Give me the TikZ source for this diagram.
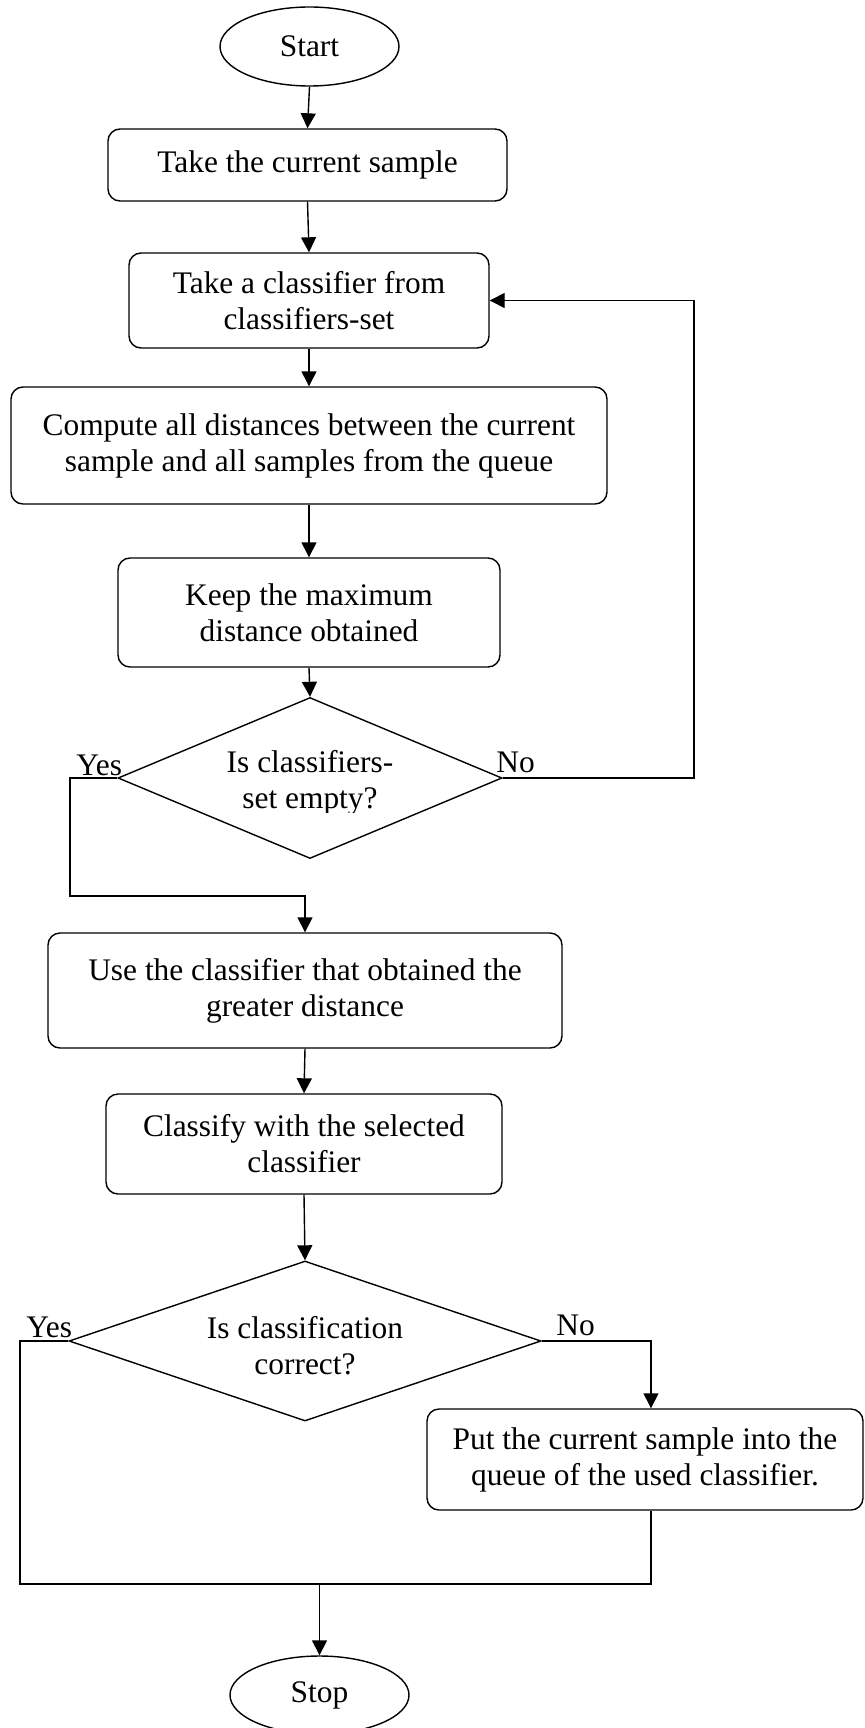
\documentclass[tikz,border=0pt]{standalone}
\usepackage{fontspec}
\setmainfont{Liberation Serif}
\usetikzlibrary{arrows.meta,shapes.geometric}
\begin{document}
\begin{tikzpicture}[x=0.5pt,y=-0.5pt,
  every node/.style={font=\fontsize{15.7pt}{18pt}\selectfont, inner sep=0pt},
  proc/.style={draw, rounded corners=6pt, line width=0.7pt, align=center},
  term/.style={draw, ellipse, line width=0.7pt},
  dec/.style={draw, diamond, line width=0.7pt},
  dtext/.style={align=center},
  conn/.style={line width=0.7pt},
  arr/.style={conn, -{Triangle[length=7.5pt,width=7.5pt]}},
  lbl/.style={anchor=base west}]
\useasboundingbox (0,0) rectangle (864,1728);
\fill[white] (0,0) rectangle (864,1728);
\clip (0,0) rectangle (864,1728);

% nodes
\node[term, minimum width=89.5pt, minimum height=39.5pt] (start) at (309.5,46.5) {Start};
\node[proc, minimum width=199.5pt, minimum height=36pt] (b1) at (307.5,165) {Take the current sample};
\node[proc, minimum width=180pt, minimum height=47.5pt] (b2) at (309,300.5) {Take a classifier from\\classifiers-set};
\node[proc, minimum width=298pt, minimum height=58.5pt] (b3) at (309,445.5) {Compute all distances between the current\\sample and all samples from the queue};
\node[proc, minimum width=191pt, minimum height=54.5pt] (b4) at (309,612.5) {Keep the maximum\\distance obtained};
\node[dec, minimum width=192pt, minimum height=80.5pt] (d1) at (310,778) {};
\begin{scope}
\clip (0,0) rectangle (864,812);
\node[dtext] (d1t) at (310,783) {Is classifiers-\\set empty?};
\end{scope}
\node[proc, minimum width=257pt, minimum height=57.5pt] (b5) at (305,990.5) {Use the classifier that obtained the\\greater distance};
\node[proc, minimum width=198pt, minimum height=50pt] (b6) at (304,1144) {Classify with the selected\\classifier};
\node[dec, minimum width=236pt, minimum height=80pt] (d2) at (305,1341) {};
\node[dtext] (d2t) at (305,1345.5) {Is classification\\correct?};
\node[proc, minimum width=218pt, minimum height=50.5pt] (b7) at (645,1459.5) {Put the current sample into the\\queue of the used classifier.};
\node[term, minimum width=89.5pt, minimum height=39pt] (stop) at (319.5,1695) {Stop};

% labels
\node[lbl] (yes1) at (76,775) {Yes};
\node[lbl] (no1) at (496,772) {No};
\node[lbl] (yes2) at (26,1337) {Yes};
\node[lbl] (no2) at (556,1335) {No};

% helper coordinates
\coordinate (fb) at (694,778);
\coordinate (ya) at (70,778);
\coordinate (yb) at (70,896);
\coordinate (ya2) at (20,1341);
\coordinate (j) at (319.5,1584);

% connectors
\draw[arr] (start.south) -- (b1.north);
\draw[arr] (b1.south) -- (b2.north);
\draw[arr] (b2.south) -- (b3.north);
\draw[arr] (b3.south) -- (b4.north);
\draw[arr] (b4.south) -- (d1.north);
\draw[arr] (d1.east) -- (fb) |- (b2.east);
\draw[arr] (d1.west) -- (ya) -- (yb) -| (b5.north);
\draw[arr] (b5.south) -- (b6.north);
\draw[arr] (b6.south) -- (d2.north);
\draw[arr] (d2.east) -| ([xshift=3pt]b7.north);
\draw[conn] ([xshift=3pt]b7.south) |- (j);
\draw[conn] (d2.west) -- (ya2) |- (j);
\draw[arr] (j) -- (stop.north);
\end{tikzpicture}
\end{document}
